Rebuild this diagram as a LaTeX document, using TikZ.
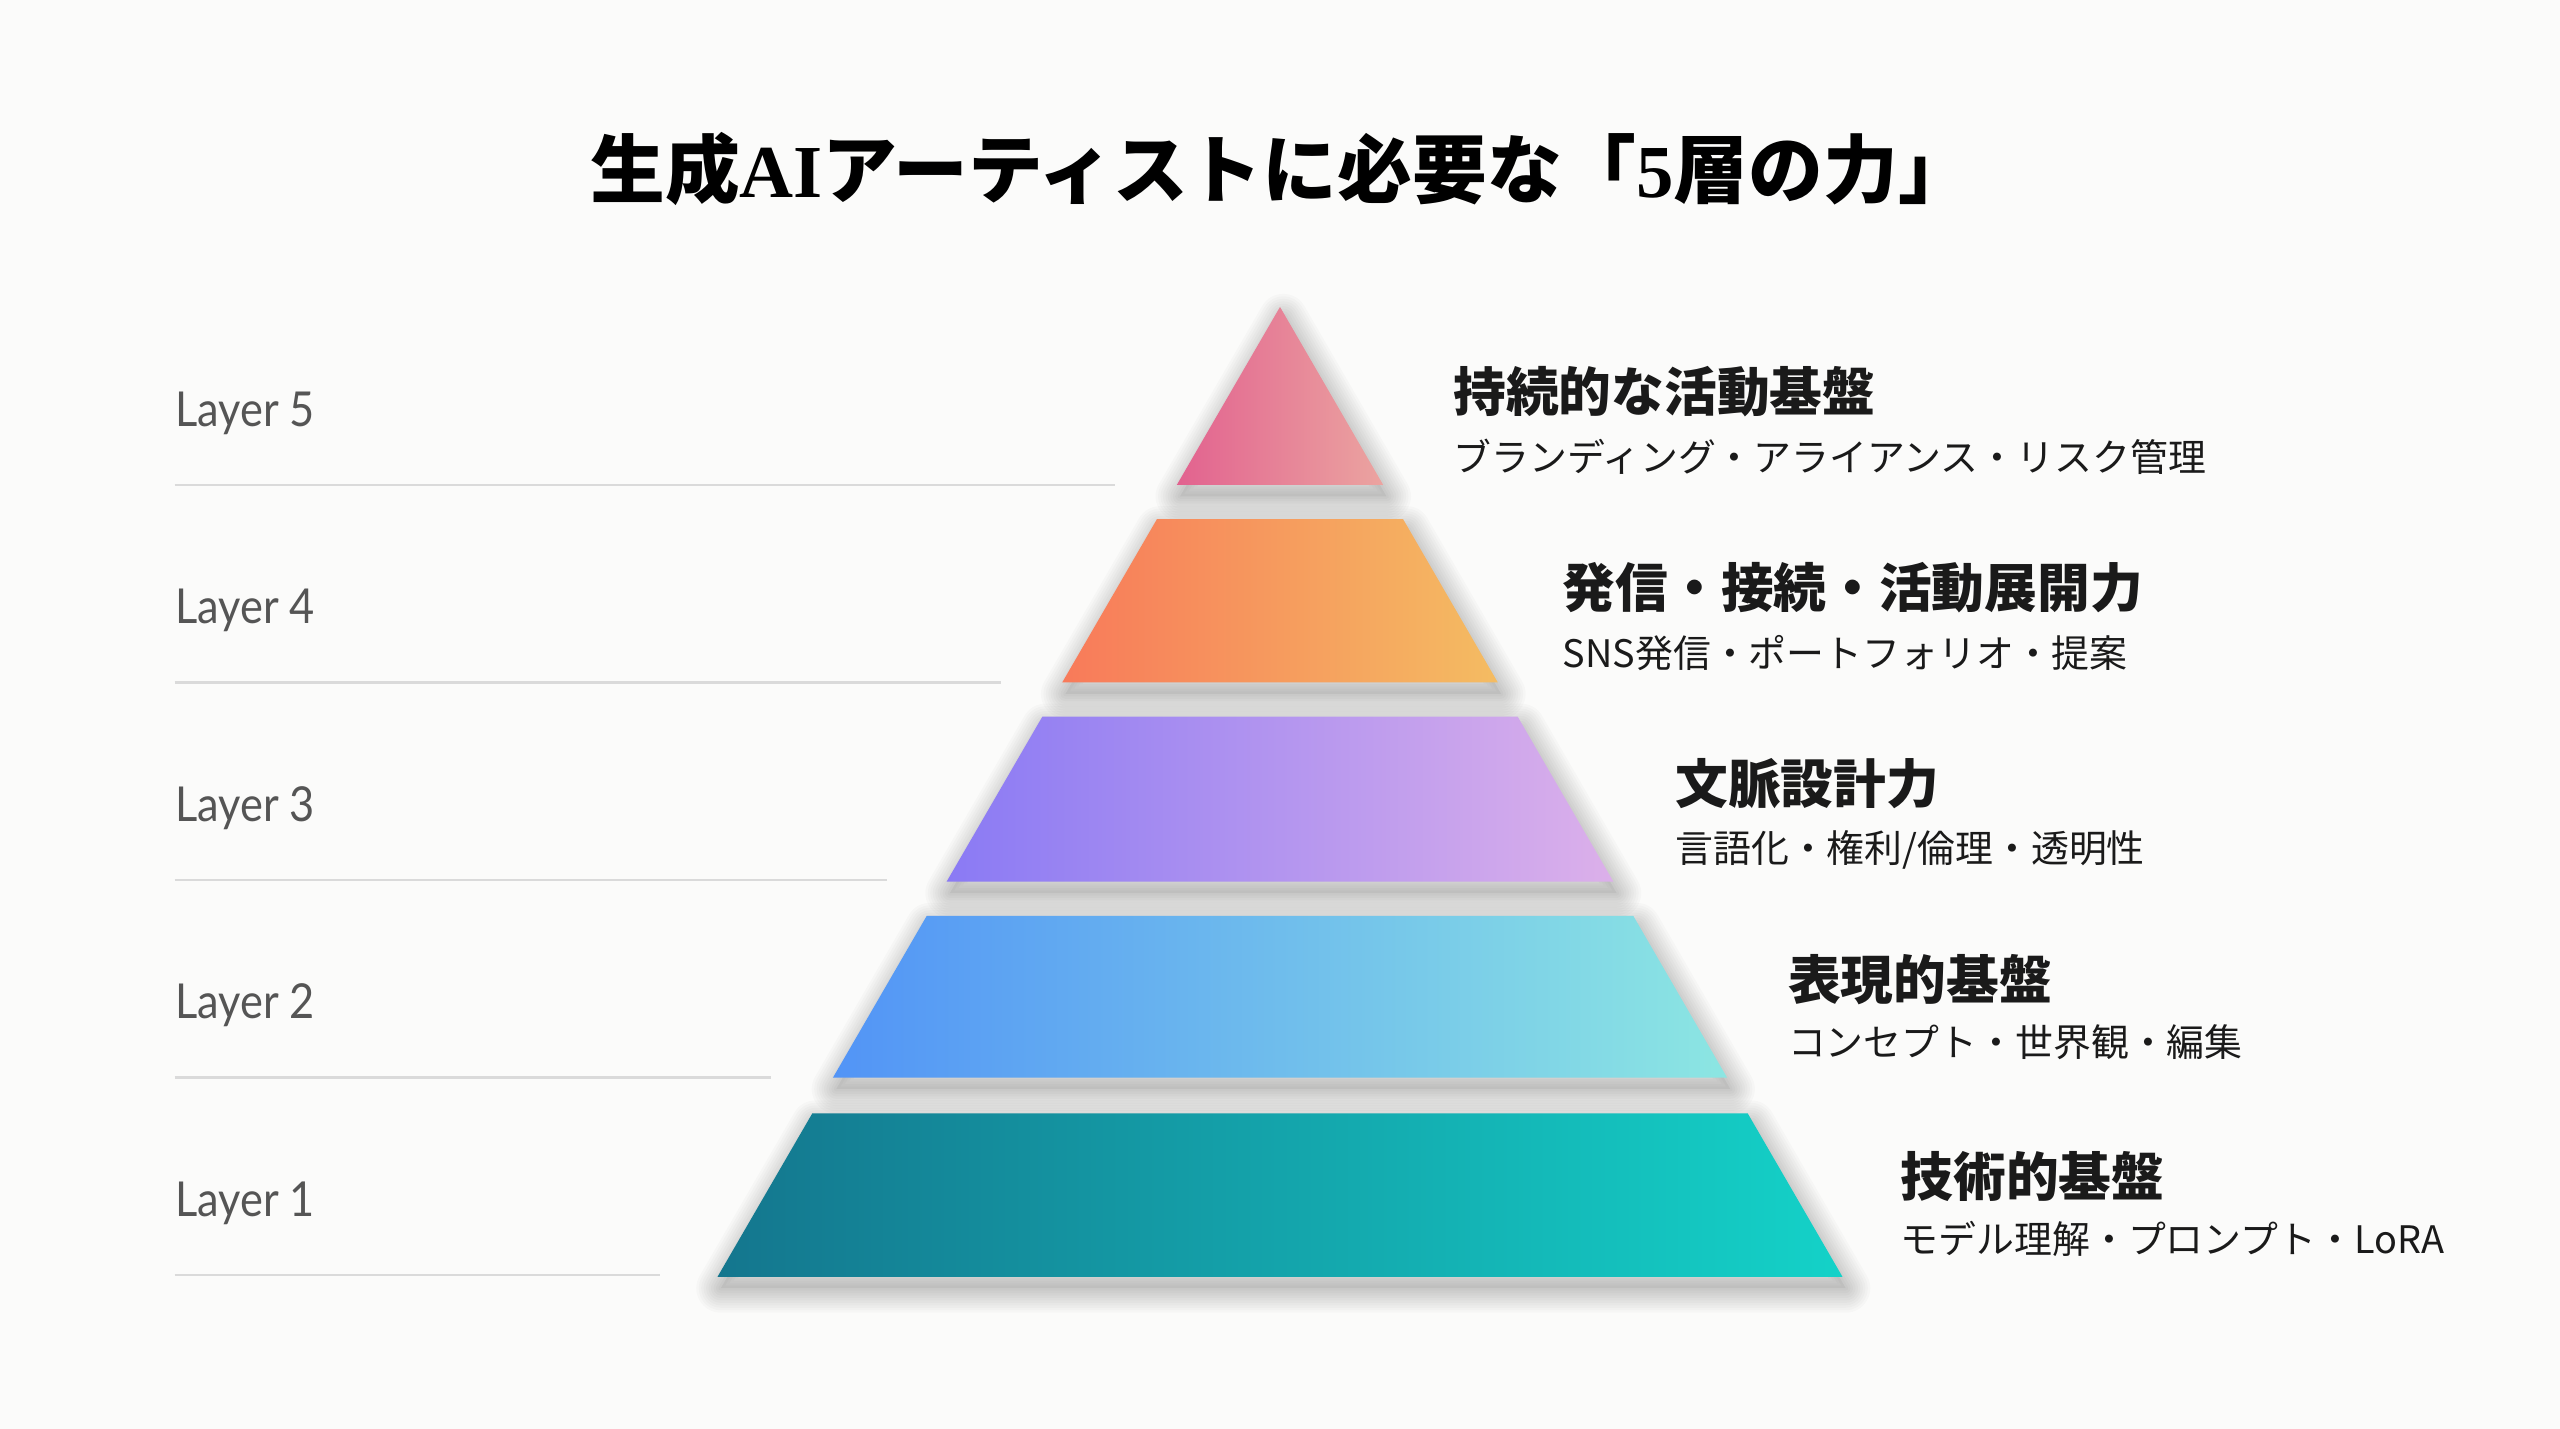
\documentclass[tikz,border=0pt]{standalone}
\usepackage{fontspec}
\newfontfamily\jp{Noto Sans CJK JP}
\newfontfamily\serifb{Liberation Serif}
\newfontfamily\lab{Lato}[FakeStretch=0.9]
\definecolor{bgc}{HTML}{FBFBFA}
\definecolor{labgray}{HTML}{555555}
\definecolor{rulegray}{HTML}{DADADA}
\definecolor{ink}{HTML}{1A1A1A}
\definecolor{l5a}{HTML}{E2628F}
\definecolor{l5b}{HTML}{EBA4A0}
\definecolor{l4a}{HTML}{F87A5A}
\definecolor{l4b}{HTML}{F4BC62}
\definecolor{l3a}{HTML}{8A7AF4}
\definecolor{l3b}{HTML}{DCB0EA}
\definecolor{l2a}{HTML}{5294F6}
\definecolor{l2b}{HTML}{8CE6E2}
\definecolor{l1a}{HTML}{14768E}
\definecolor{l1b}{HTML}{14D2C8}
\tikzset{
  shadowcore/.style={fill=black, fill opacity=0.05, shift={(2pt,-7pt)}},
  shadowring/.style={draw=black, draw opacity=0.02, line width=#1, line join=round, shift={(2pt,-7pt)}},
  layerlab/.style={anchor=base west, inner sep=0pt, text=labgray, font=\lab\fontsize{29.5}{29.5}\selectfont},
  sepline/.style={draw=rulegray, line width=1.5pt},
  ttl/.style={anchor=base west, inner sep=0pt, text=ink, font=\jp\bfseries\fontsize{32.3}{32.3}\selectfont},
  sub/.style={anchor=base west, inner sep=0pt, text=ink, font=\jp\fontsize{23.2}{23.2}\selectfont},
  head/.style={anchor=base, inner sep=0pt, text=black, font=\jp\bfseries\fontsize{45.8}{45.8}\selectfont}
}
\newcommand\pyrpiece[3]{%
  \path[shadowcore] #1;
  \foreach \w in {3,6,9,12,15,18,21,24,27,30}{\path[shadowring=\w pt] #1;}
  \path[left color=#2, right color=#3] #1;
}
\begin{document}
\begin{tikzpicture}[x=1pt,y=-1pt]
\fill[bgc] (0,0) rectangle (1568,875.2);
\useasboundingbox (0,0) rectangle (1568,875.2);

\node[head] (title) at (785,121) {生成{\serifb AI}アーティストに必要な「{\serifb 5}層の力」};

% pyramid pieces
\pyrpiece{(784,188) -- (847.2,297) -- (720.8,297) -- cycle}{l5a}{l5b}
\pyrpiece{(708.6,318) -- (859.4,318) -- (917.4,418) -- (650.6,418) -- cycle}{l4a}{l4b}
\pyrpiece{(638.4,439) -- (929.6,439) -- (988.2,540) -- (579.8,540) -- cycle}{l3a}{l3b}
\pyrpiece{(567.6,561) -- (1000.4,561) -- (1057.8,660) -- (510.2,660) -- cycle}{l2a}{l2b}
\pyrpiece{(497.5,682) -- (1070.5,682) -- (1128.5,782) -- (439.5,782) -- cycle}{l1a}{l1b}

% left labels and rules
\node[layerlab] (lab5) at (107,261) {Layer 5};
\node[layerlab] (lab4) at (107,382) {Layer 4};
\node[layerlab] (lab3) at (107,503) {Layer 3};
\node[layerlab] (lab2) at (107,624) {Layer 2};
\node[layerlab] (lab1) at (107,745) {Layer 1};
\draw[sepline] (107,297) -- (683,297);
\draw[sepline] (107,418) -- (613,418);
\draw[sepline] (107,539) -- (543,539);
\draw[sepline] (107,660) -- (472,660);
\draw[sepline] (107,781) -- (404,781);

% right texts
\node[ttl] (t5) at (890,252) {持続的な活動基盤};
\node[sub] (s5) at (890,289) {ブランディング・アライアンス・リスク管理};
\node[ttl] (t4) at (957,372) {発信・接続・活動展開力};
\node[sub] (s4) at (957,409) {SNS発信・ポートフォリオ・提案};
\node[ttl] (t3) at (1026,492) {文脈設計力};
\node[sub] (s3) at (1026,528) {言語化・権利/倫理・透明性};
\node[ttl] (t2) at (1095,612) {表現的基盤};
\node[sub] (s2) at (1095,647) {コンセプト・世界観・編集};
\node[ttl] (t1) at (1164,733) {技術的基盤};
\node[sub] (s1) at (1164,768) {モデル理解・プロンプト・LoRA};
\end{tikzpicture}
\end{document}
